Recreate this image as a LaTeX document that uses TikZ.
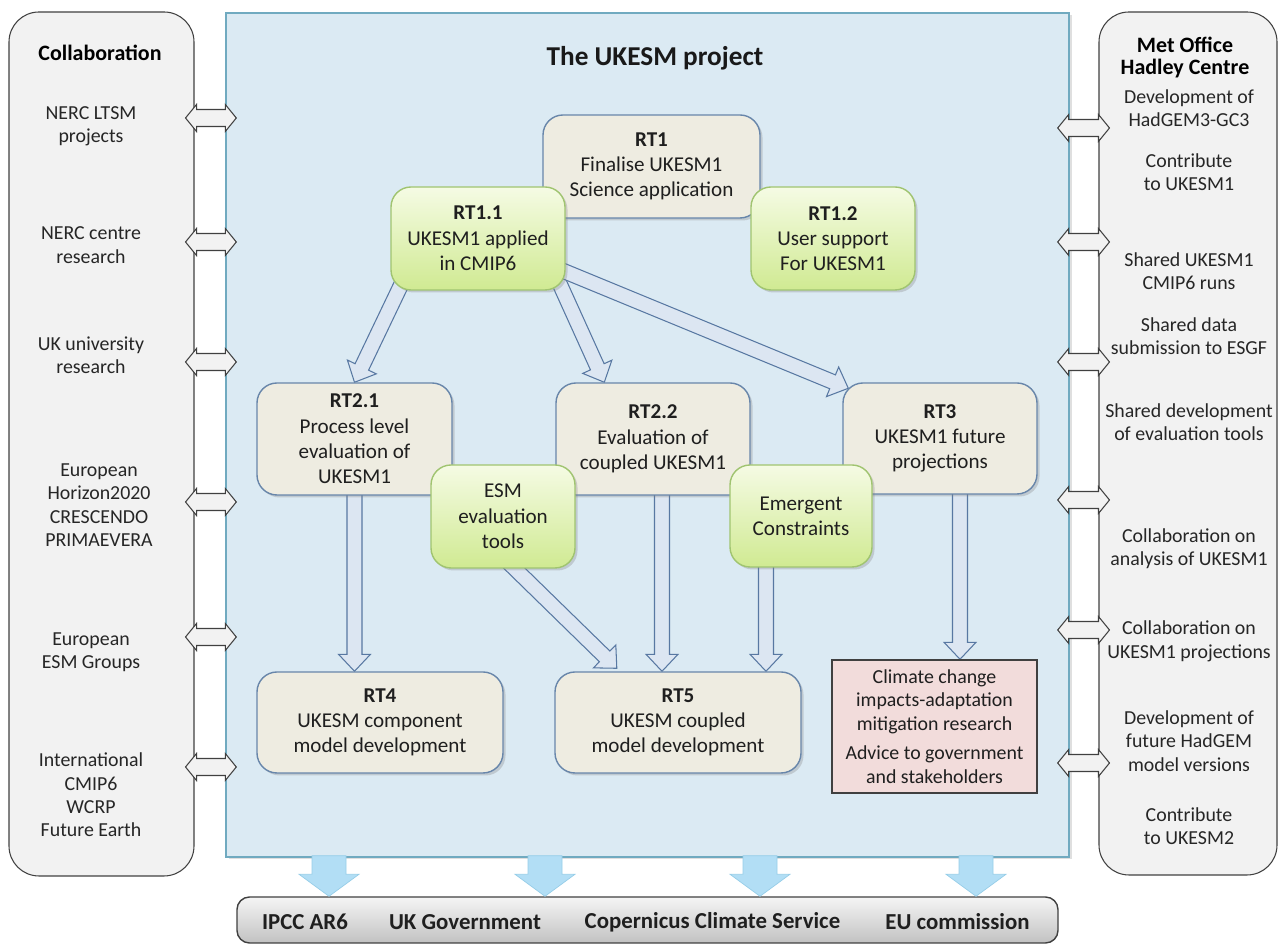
\documentclass[tikz,border=0pt]{standalone}
\usepackage{fontspec}
\setmainfont{Carlito}
\usepackage{tikz}
\usetikzlibrary{calc,shadows,backgrounds}

\definecolor{projblue}{RGB}{219,234,243}
\definecolor{projedge}{RGB}{112,170,192}
\definecolor{panelgray}{RGB}{242,242,242}
\definecolor{edgegray}{RGB}{64,64,64}
\definecolor{tanbox}{RGB}{238,236,225}
\definecolor{tanedge}{RGB}{104,134,170}
\definecolor{greentop}{RGB}{245,251,228}
\definecolor{greenbot}{RGB}{208,234,146}
\definecolor{greenedge}{RGB}{160,196,112}
\definecolor{pinkbox}{RGB}{242,220,219}
\definecolor{flowfill}{RGB}{220,230,242}
\definecolor{flowedge}{RGB}{88,120,162}
\definecolor{outfill}{RGB}{178,222,245}
\definecolor{outedge}{RGB}{150,205,232}

\newcommand{\rtfont}{\fontsize{12}{14.4}\selectfont}
\newcommand{\sidefont}{\fontsize{11.3}{13.3}\selectfont}
\newcommand{\headfont}{\fontsize{12.5}{12.6}\selectfont\bfseries}
\newcommand{\titlefont}{\fontsize{15.5}{18}\selectfont\bfseries}
\newcommand{\barfont}{\fontsize{13}{15}\selectfont\bfseries}

% block arrow: [style]{tail}{tip}{half shaft}{half head}{head length}
\newcommand{\blockarrow}[6][]{%
  \coordinate (ba tail) at #2;
  \coordinate (ba tip) at #3;
  \coordinate (ba head) at ($(ba tip)!#6!(ba tail)$);
  \draw[#1] ($(ba tail)!#4!90:(ba tip)$) -- ($(ba head)!#4!-90:(ba tail)$)
    -- ($(ba head)!#5!-90:(ba tail)$) -- (ba tip)
    -- ($(ba head)!#5!90:(ba tail)$) -- ($(ba head)!#4!90:(ba tail)$)
    -- ($(ba tail)!#4!-90:(ba tip)$) -- cycle;
}
% double block arrow between the side panels and the project
\newcommand{\sidearrow}[2]{%
  \coordinate (sa l) at #1;
  \coordinate (sa r) at #2;
  \coordinate (sa hl) at ($(sa l)!0.22cm!(sa r)$);
  \coordinate (sa hr) at ($(sa r)!0.22cm!(sa l)$);
  \draw[sidearr] (sa l) -- ($(sa hl)!0.27cm!90:(sa r)$) -- ($(sa hl)!0.17cm!90:(sa r)$)
    -- ($(sa hr)!0.17cm!-90:(sa l)$) -- ($(sa hr)!0.27cm!-90:(sa l)$) -- (sa r)
    -- ($(sa hr)!0.27cm!90:(sa l)$) -- ($(sa hr)!0.17cm!90:(sa l)$)
    -- ($(sa hl)!0.17cm!-90:(sa r)$) -- ($(sa hl)!0.27cm!-90:(sa r)$) -- cycle;
}

\tikzset{
  panel/.style={draw=edgegray, fill=panelgray, rounded corners=0.6cm, line width=0.6pt},
  projframe/.style={draw=projedge, fill=projblue, line width=0.8pt,
    minimum width=16.86cm, minimum height=16.88cm,
    drop shadow={shadow xshift=0.05cm, shadow yshift=-0.05cm, opacity=0.25}},
  rtbox/.style={draw=tanedge, fill=tanbox, rounded corners=0.4cm, line width=0.8pt,
    align=center, font=\rtfont, text=black!88, inner sep=2pt,
    drop shadow={shadow xshift=0.05cm, shadow yshift=-0.05cm, opacity=0.3}},
  toolbox/.style={draw=greenedge, top color=greentop, bottom color=greenbot,
    rounded corners=0.4cm, line width=0.8pt,
    align=center, font=\rtfont, text=black!88, inner sep=2pt,
    drop shadow={shadow xshift=0.05cm, shadow yshift=-0.05cm, opacity=0.3}},
  riskbox/.style={draw=edgegray, fill=pinkbox, line width=0.8pt,
    align=center, font=\sidefont, text=black!88, inner sep=2pt},
  titletext/.style={font=\titlefont, text=black!90},
  sidetext/.style={align=center, font=\sidefont, text=black!85},
  headtext/.style={align=center, font=\headfont},
  bartext/.style={font=\barfont, text=black!88},
  barbox/.style={draw=edgegray, top color=white!96!black, bottom color=black!24,
    rounded corners=0.25cm, line width=0.8pt, minimum width=16.42cm, minimum height=0.92cm},
  flowarr/.style={draw=flowedge, fill=flowfill, line width=0.6pt},
  outarr/.style={draw=outedge, fill=outfill, line width=0.4pt},
  sidearr/.style={draw=edgegray, fill=panelgray, line width=0.6pt},
}

\begin{document}
\begin{tikzpicture}
\useasboundingbox (0,0) rectangle (25.66,18.92);

%%%%%%%%%%%%%%
% Frames
%%%%%%%%%%%%%%
\begin{scope}[on background layer]
  \node[projframe] (ukesm) at (12.95,10.22) {};
  \node[panel, minimum width=3.70cm, minimum height=17.28cm] (collab) at (2.03,10.04) {};
  \node[panel, minimum width=3.56cm, minimum height=17.26cm] (hadley) at (23.76,10.05) {};
\end{scope}

\node[titletext] (title) at (13.10,17.76) {The UKESM project};

%%%%%%%%%%%%%%
% Collaboration
%%%%%%%%%%%%%%
  \node[headtext] (collabhead) at (2.0,17.86) {Collaboration};
  \node[sidetext] (c1) at (1.82,16.40) {NERC LTSM\\projects};
  \node[sidetext] (c2) at (1.82,14.02) {NERC centre\\research};
  \node[sidetext] (c3) at (1.82,11.82) {UK university\\research};
  \node[sidetext] (c4) at (1.98,8.82) {European\\Horizon2020\\CRESCENDO\\PRIMAEVERA};
  \node[sidetext] (c5) at (1.82,5.87) {European\\ESM Groups};
  \node[sidetext] (c6) at (1.82,3.02) {International\\CMIP6\\WCRP\\Future Earth};

%%%%%%%%%%%%%%
% Met Office
%%%%%%%%%%%%%%
  \node[headtext] (hadleyhead) at (23.70,17.77) {Met Office\\Hadley Centre};
  \node[sidetext] (h1) at (23.78,16.75) {Development of\\HadGEM3-GC3};
  \node[sidetext] (h2) at (23.78,15.47) {Contribute\\to UKESM1};
  \node[sidetext] (h3) at (23.78,13.50) {Shared UKESM1\\CMIP6 runs};
  \node[sidetext] (h4) at (23.78,12.20) {Shared data\\submission to ESGF};
  \node[sidetext] (h5) at (23.78,10.48) {Shared development\\of evaluation tools};
  \node[sidetext] (h6) at (23.78,7.95) {Collaboration on\\analysis of UKESM1};
  \node[sidetext] (h7) at (23.78,6.09) {Collaboration on\\UKESM1 projections};
  \node[sidetext] (h8) at (23.78,4.10) {Development of\\future HadGEM\\model versions};
  \node[sidetext] (h9) at (23.78,2.40) {Contribute\\to UKESM2};

  % links
  \foreach \y in {16.56,14.08,11.68,8.88,6.18,3.58}
    {\sidearrow{($(collab.east |- 0,\y)+(-0.18,0)$)}{($(ukesm.west |- 0,\y)+(0.22,0)$)}}
  \foreach \y in {16.36,14.08,11.68,8.92,6.32,3.66}
    {\sidearrow{($(ukesm.east |- 0,\y)+(-0.24,0)$)}{($(hadley.west |- 0,\y)+(0.22,0)$)}}

%%%%%%%%%%%%%%
% Research themes
%%%%%%%%%%%%%%
  \node[rtbox, minimum width=4.34cm, minimum height=2.06cm] (rt1) at (13.03,15.59)
        {\textbf{RT1}\\Finalise UKESM1\\Science application};
  \node[toolbox, minimum width=3.48cm, minimum height=2.06cm] (rt11) at (9.56,14.15)
        {\textbf{RT1.1}\\UKESM1 applied\\in CMIP6};
  \node[toolbox, minimum width=3.28cm, minimum height=2.06cm] (rt12) at (16.66,14.15)
        {\textbf{RT1.2}\\User support\\For UKESM1};

  \node[rtbox, minimum width=3.90cm, minimum height=2.24cm] (rt21) at (7.09,10.14)
        {\textbf{RT2.1}\\Process level\\evaluation of\\UKESM1};
  \node[rtbox, minimum width=3.88cm, minimum height=2.24cm] (rt22) at (13.06,10.14)
        {\textbf{RT2.2}\\Evaluation of\\coupled UKESM1};
  \node[rtbox, minimum width=3.88cm, minimum height=2.22cm] (rt3) at (18.80,10.15)
        {\textbf{RT3}\\UKESM1 future\\projections};

  \node[toolbox, minimum width=2.88cm, minimum height=2.06cm] (esm) at (10.06,8.59)
        {ESM\\evaluation\\tools};
  \node[toolbox, minimum width=2.84cm, minimum height=2.04cm] (emc) at (16.02,8.60)
        {Emergent\\Constraints};

  \node[rtbox, minimum width=4.92cm, minimum height=2.02cm] (rt4) at (7.60,4.47)
        {\textbf{RT4}\\UKESM component\\model development};
  \node[rtbox, minimum width=4.92cm, minimum height=2.02cm] (rt5) at (13.56,4.47)
        {\textbf{RT5}\\UKESM coupled\\model development};
  \node[riskbox, minimum width=4.10cm, minimum height=2.66cm] (risk) at (18.69,4.39)
        {Climate change\\impacts-adaptation\\mitigation research\\[0.12cm]Advice to government\\and stakeholders};

  % flows
  \coordinate (rt21out) at (rt21.center);
  \coordinate (rt22out) at ($(rt22.center)+(0.18,0)$);
  \coordinate (emcout) at ($(emc.center)+(-0.70,0)$);
  \coordinate (rt3out) at ($(rt3.center)+(0.40,0)$);
\begin{scope}[on background layer]
  \blockarrow[flowarr]{($(rt11.south west)+(0.49,0.69)$)}{(rt21.north)}{0.15cm}{0.32cm}{0.34cm}
  \blockarrow[flowarr]{($(rt11.south east)+(-0.37,0.69)$)}{($(rt22.north west)+(0.98,0)$)}{0.15cm}{0.32cm}{0.34cm}
  \blockarrow[flowarr]{($(rt11.south east)+(-0.52,0.59)$)}{($(rt3.north west)+(0.12,-0.12)$)}{0.15cm}{0.32cm}{0.34cm}
  \blockarrow[flowarr]{(rt21out)}{(rt21out |- rt4.north)}{0.15cm}{0.32cm}{0.34cm}
  \blockarrow[flowarr]{(rt22out)}{(rt22out |- rt5.north)}{0.15cm}{0.32cm}{0.34cm}
  \blockarrow[flowarr]{($(esm.south)+(-0.06,0.29)$)}{($(rt5.north west)+(1.25,0.06)$)}{0.15cm}{0.32cm}{0.34cm}
  \blockarrow[flowarr]{(emcout)}{(emcout |- rt5.north)}{0.15cm}{0.32cm}{0.34cm}
  \blockarrow[flowarr]{(rt3out)}{(rt3out |- risk.north)}{0.15cm}{0.32cm}{0.34cm}
\end{scope}

%%%%%%%%%%%%%%
% Outlets
%%%%%%%%%%%%%%
  \node[barbox] (outlets) at (12.95,0.52) {};
  \node[bartext] (ipcc) at (6.10,0.48) {IPCC AR6};
  \node[bartext] (ukgov) at (9.30,0.48) {UK Government};
  \node[bartext] (copern) at (14.25,0.48) {Copernicus Climate Service};
  \node[bartext] (eucom) at (19.15,0.48) {EU commission};

  \foreach \x in {6.58,10.90,15.20,19.52}
    {\blockarrow[outarr]{($(ukesm.south -| \x,0)+(0,0.04)$)}{(outlets.north -| \x,0)}{0.34cm}{0.6cm}{0.44cm}}

\end{tikzpicture}
\end{document}
